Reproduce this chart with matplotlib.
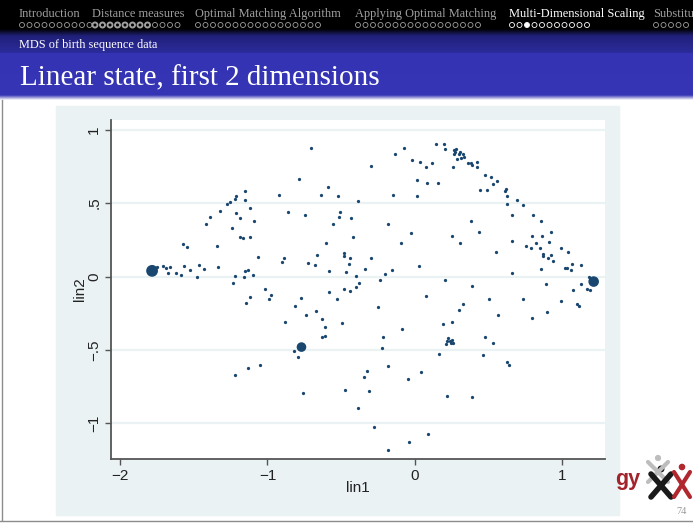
import matplotlib.pyplot as plt
import numpy as np
from matplotlib.patches import Rectangle
from matplotlib.colors import to_rgb

# MDS coordinates (lin1 = dim 1, lin2 = dim 2)
lin1 = [-1.750, -1.712, -1.692, -1.664, -1.673, -1.624, -1.585, -1.567, -1.526, -1.476,
        -1.465, -1.431, -1.338, -1.574, -1.544, -1.342, -1.415, -1.390, -1.322, -1.274,
        -1.256, -1.220, -1.213, -1.156, -1.154, -1.118, -1.213, -1.186, -1.093, -1.240,
        -1.190, -1.165, -1.120, -1.061, -1.154, -1.129, -1.100, -1.222, -1.161, -1.231,
        -1.014,
        -0.703, -0.073, 0.148, -0.136, -0.018, 0.034, 0.120, 0.075, -0.297, -0.789,
        0.016, 0.084, 0.156, -0.590, -0.925, -0.633, -0.519, -0.388, -0.147, 0.016,
        -0.862, -0.746, -0.506, -0.517, -0.435, -0.553, -0.184, -0.027, -0.422, -0.601,
        -0.095, -0.887, -0.903, -0.662, -0.726, -0.678, -0.478, -0.481, -0.438, -0.299,
        -0.444, -0.585, -0.465, -0.338, 0.027, -0.156, -0.204, -0.397, -0.236, -0.381,
        -0.399, -0.481,
        0.197, 0.204, 0.270, 0.284, 0.277, 0.265, 0.302, 0.311, 0.327, 0.336,
        0.286, 0.313, 0.259, 0.363, 0.383, 0.390, 0.426, 0.422, 0.476, 0.517,
        0.562, 0.533, 0.444, 0.494, 0.619, 0.612, 0.628, 0.696, 0.626, 0.739,
        0.660, 0.807, 0.381, 0.855, 0.438, 0.925, 0.252, 0.800, 0.864, 0.660,
        0.311, 0.825, 0.914, 0.757, 0.787, 0.853, 0.995, 1.039, 0.551, 0.875,
        0.925, 0.875, 0.909, 0.939, 1.068, 1.127, 1.020, 1.032, 1.061, 0.859,
        0.660, 1.186, 0.204, 0.388, 0.889, 1.127, 1.168,
        -1.118, -1.143, -0.975, -0.991, -1.048, -1.129, -1.224,
        -0.580, -0.440, -0.773, -0.526, 0.075, -0.816, -0.247, -0.667, -0.741, -0.631,
        -0.880, -0.497, -0.612, -0.084, -0.631, -0.608, -0.213, -0.819, -0.796, -0.222,
        0.168, -0.179, -0.327, -0.347, 0.043, -0.048, -0.757, -0.474, -0.313, -0.386,
        -0.274, 0.093, -0.039, -0.182,
        1.079, 1.193, 0.508, 0.735, 0.331, 0.993, 1.102, 1.116, 0.304, 0.900,
        0.569, 0.796, 0.193, 0.252, 0.227, 0.213, 0.220, 0.240, 0.252, 0.259,
        0.245, 0.476, 0.531, 0.467, 0.624, 0.639, 0.218, 0.388]
lin2 = [0.068, 0.073, 0.061, 0.064, 0.023, 0.025, 0.009, 0.075, 0.046, 0.000,
        0.082, 0.054, 0.064, 0.220, 0.204, 0.206, 0.356, 0.406, 0.449, 0.497,
        0.508, 0.531, 0.551, 0.583, 0.522, 0.465, 0.433, 0.401, 0.377, 0.331,
        0.272, 0.261, 0.270, 0.136, 0.041, 0.043, 0.014, 0.007, -0.004, -0.041,
        -0.084,
        0.876, 0.878, 0.905, 0.833, 0.792, 0.780, 0.773, 0.746, 0.751, 0.665,
        0.658, 0.635, 0.640, 0.608, 0.556, 0.553, 0.549, 0.515, 0.558, 0.549,
        0.442, 0.417, 0.442, 0.408, 0.399, 0.361, 0.359, 0.295, 0.268, 0.227,
        0.229, 0.129, 0.098, 0.145, 0.093, 0.077, 0.161, 0.139, 0.129, 0.129,
        0.084, 0.039, 0.034, 0.054, 0.071, 0.043, 0.020, 0.007, -0.025, -0.043,
        -0.068, -0.084,
        0.905, 0.871, 0.860, 0.866, 0.848, 0.837, 0.833, 0.848, 0.837, 0.816,
        0.803, 0.809, 0.746, 0.776, 0.771, 0.758, 0.778, 0.746, 0.690, 0.678,
        0.651, 0.628, 0.590, 0.590, 0.597, 0.583, 0.547, 0.524, 0.492, 0.490,
        0.422, 0.422, 0.379, 0.377, 0.302, 0.306, 0.279, 0.277, 0.277, 0.245,
        0.229, 0.227, 0.234, 0.209, 0.195, 0.193, 0.195, 0.170, 0.168, 0.154,
        0.145, 0.143, 0.127, 0.104, 0.086, 0.080, 0.057, 0.057, 0.043, 0.050,
        0.023, 0.000, -0.025, -0.061, -0.050, -0.048, -0.082,
        -0.136, -0.179, -0.127, -0.154, -0.599, -0.623, -0.671,
        -0.102, -0.099, -0.147, -0.152, -0.131, -0.197, -0.208, -0.231, -0.265, -0.288,
        -0.308, -0.315, -0.342, -0.354, -0.408, -0.403, -0.408, -0.505, -0.546, -0.483,
        -0.526, -0.612, -0.646, -0.682, -0.648, -0.696, -0.791, -0.771, -0.778, -0.893,
        -1.022, -1.070, -1.124, -1.184,
        -0.093, -0.093, -0.152, -0.152, -0.186, -0.165, -0.186, -0.199, -0.229, -0.240,
        -0.261, -0.281, -0.320, -0.310, -0.417, -0.456, -0.442, -0.438, -0.431, -0.451,
        -0.451, -0.410, -0.451, -0.537, -0.580, -0.603, -0.810, -0.820]

# heavily overplotted spots (many identical sequences)
big_lin1 = [-1.784, -0.769, 1.216]
big_lin2 = [0.039, -0.480, -0.034]

xticks = [-2, -1, 0, 1]
xticklabels = ['\u22122', '\u22121', '0', '1']
yticks = [-1, -0.5, 0, 0.5, 1]
yticklabels = ['\u22121', '\u2212.5', '0', '.5', '1']

nav_sections = ['Introduction', 'Distance measures', 'Optimal Matching Algorithm',
                'Applying Optimal Matching', 'Multi-Dimensional Scaling', 'Substitu']
nav_frames = [10, 12, 17, 17, 11, 5]
current_section = 4
current_frame = 2

W, H = 693, 524
fig = plt.figure(figsize=(W / 100, H / 100), dpi=100)

# slide background, drawn in pixel coordinates
bg = fig.add_axes([0, 0, 1, 1])
bg.set_xlim(0, W)
bg.set_ylim(H, 0)
bg.axis('off')

keys = [0, 29, 36, 53, 53.5, 95, 97.5, 100]
cols = ['#000000', '#000000', '#20207a', '#2c2c9c', '#3333b3', '#3535b6', '#9a9ad6', '#ffffff']
rows = np.arange(100) + 0.5
rgb = np.array([to_rgb(c) for c in cols])
grad = np.stack([np.interp(rows, keys, rgb[:, k]) for k in range(3)], axis=1)
bg.imshow(grad[:, None, :], extent=(0, W, 100, 0), aspect='auto', zorder=0)

serif = 'Liberation Serif'
xs = [19, 92, 195, 355, 509, 653]
for i, (name, n) in enumerate(zip(nav_sections, nav_frames)):
    col = 'white' if i == current_section else '#a0a0a0'
    bg.text(xs[i], 14, name, color=col, fontsize=8.9, family=serif, va='center', ha='left')
    cx = xs[i] + 3 + np.arange(n) * 7.5
    lw = np.full(n, 0.6)
    if i == 1:
        lw[:8] = 1.4
    fc = ['none'] * n
    if i == current_section:
        fc[current_frame] = 'white'
    bg.scatter(cx, np.full(n, 25), s=13, facecolors=fc, edgecolors=col, linewidths=lw, zorder=2)

bg.text(19, 45, 'MDS of birth sequence data', color='white', fontsize=8.8, family=serif, va='center')
bg.text(20, 85, 'Linear state, first 2 dimensions', color='white', fontsize=21, family=serif,
        va='baseline')

# slide frame, page number and logo
bg.plot([2, 2], [100, 520], color='#8c8c8c', lw=1)
bg.plot([0, W], [520.5, 520.5], color='#8c8c8c', lw=1)
bg.text(682, 512, '74', color='#999999', fontsize=7.5, family=serif, ha='center', va='center')
bg.text(615, 479, 'gy', color='#a3232a', fontsize=15.5, fontweight='bold', family='Liberation Sans',
        ha='left', va='center')
bg.plot([648, 668], [462, 482], color='#bdbdbd', lw=3, solid_capstyle='round')
bg.plot([668, 648], [462, 482], color='#bdbdbd', lw=3, solid_capstyle='round')
bg.plot([651, 671], [474, 497], color='#1a1a1a', lw=4, solid_capstyle='round')
bg.plot([671, 651], [474, 497], color='#1a1a1a', lw=4, solid_capstyle='round')
bg.plot([674, 690], [472, 497], color='#b0282d', lw=3, solid_capstyle='round')
bg.plot([690, 674], [472, 497], color='#b0282d', lw=3, solid_capstyle='round')
bg.scatter([658, 661, 682], [458, 469, 467], s=[12, 16, 14], color=['#bdbdbd', '#1a1a1a', '#b0282d'])

# Stata graph region
bg.add_patch(Rectangle((56, 106), 563, 409, color='#eaf2f3', zorder=1))

# plot region
ax = fig.add_axes([111 / W, 1 - 459 / H, (605 - 111) / W, (459 - 120) / H])
ax.set_facecolor('white')
ax.scatter(lin1, lin2, s=5.5, color='#1a476f', linewidths=0, zorder=3)
ax.scatter(big_lin1, big_lin2, s=[72, 48, 58], color='#1a476f', linewidths=0, zorder=3)

ax.set_xlim(-2.063, 1.293)
ax.set_ylim(-1.242, 1.066)
ax.set_xticks(xticks)
ax.set_xticklabels(xticklabels)
ax.set_yticks(yticks)
ax.set_yticklabels(yticklabels, rotation=90, va='center')
ax.grid(axis='y', color='#eaf2f3', lw=1.6)
ax.set_axisbelow(True)
for s in ['top', 'right']:
    ax.spines[s].set_visible(False)
for s in ['left', 'bottom']:
    ax.spines[s].set_color('#555555')
    ax.spines[s].set_linewidth(1.3)
ax.tick_params(direction='out', length=4, width=1, color='#555555', labelsize=11,
               labelcolor='#222222', pad=3)
for lab in ax.get_xticklabels() + ax.get_yticklabels():
    lab.set_family('Liberation Sans')

ax.set_xlabel('lin1', fontsize=11, family='Liberation Sans', color='#222222')
ax.set_ylabel('lin2', fontsize=11, family='Liberation Sans', color='#222222')
ax.xaxis.set_label_coords(0.5, -0.066)
ax.yaxis.set_label_coords(-0.048, 0.5)

fig.savefig('out.png', dpi=100)
